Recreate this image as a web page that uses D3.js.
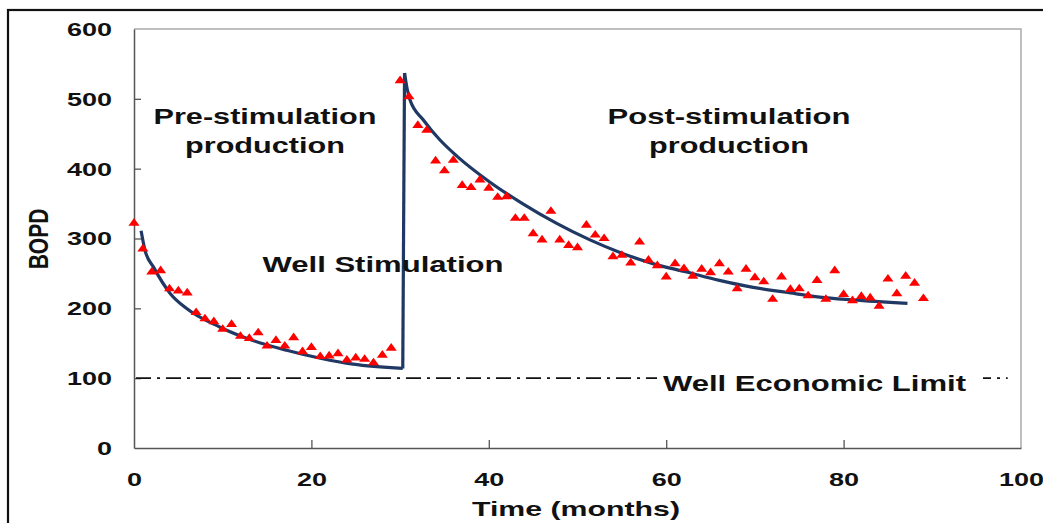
<!DOCTYPE html>
<html>
<head>
<meta charset="utf-8">
<script src="https://cdn.jsdelivr.net/npm/d3@7"></script>
<style>
  html, body { margin: 0; padding: 0; background: #fff; }
  svg { display: block; font-family: "Liberation Sans", Arial, sans-serif; font-weight: bold; }
</style>
</head>
<body>
<svg id="chart" width="1043" height="523"></svg>
<script>
// Monthly oil rate, before the stimulation job
const preMonths = [0,1,2,3,4,5,6,7,8,9,10,11,12,13,14,15,16,17,18,19,20,21,22,23,24,25,26,27,28,29];
const preRate   = [322,285,252,254,228,225,222,194,185,181,170,177,160,157,165,146,154,146,158,138,144,131,132,135,126,129,127,122,133,143];

// Monthly oil rate, after the stimulation job
const postMonths = [30,31,32,33,34,35,36,37,38,39,40,41,42,43,44,45,46,47,48,49,50,51,52,53,54,55,56,57,58,59,
                    60,61,62,63,64,65,66,67,68,69,70,71,72,73,74,75,76,77,78,79,80,81,82,83,84,85,86,87,88,89];
const postRate   = [526,503,462,455,411,397,412,376,373,384,372,359,360,329,329,307,298,339,298,290,287,319,305,300,274,276,265,295,269,261,
                    245,264,257,246,256,251,264,252,228,256,244,238,213,245,227,228,218,240,213,254,220,211,217,215,203,242,221,246,236,214];

// Decline-curve fits
const preFitMonth  = [0.8,1.24,2.2,4.1,5.9,9.7,13.4,17.2,21,24.7,30.3];
const preFitRate   = [311,283,259,221,200,173,154,140,128.6,120,114];
const postFitMonth = [30.5,30.8,31.1,32.6,34.5,36.4,40.1,43.8,47.6,51.4,55,58.5,62.3,66,69.8,73.5,77.3,81,87.2];
const postFitRate  = [537,514,499,470,441,418,381,350,322,298,279,264,252,240,230,223,216,212,207];

const economicLimit = 100;
const xTicks = [0,20,40,60,80,100];
const yTicks = [0,100,200,300,400,500,600];

const svg = d3.select("#chart");

// outer frame
svg.append("rect")
  .attr("x", 8).attr("y", 10).attr("width", 1060).attr("height", 540)
  .attr("fill", "none").attr("stroke", "#111").attr("stroke-width", 2.2);

const x = d3.scaleLinear().domain([0, 100]).range([134, 1021]);
const y = d3.scaleLinear().domain([0, 600]).range([448, 29]);

// plot box: top and right edges
svg.append("path")
  .attr("d", `M${x(0)},${y(600)}H${x(100)}V${y(0)}`)
  .attr("fill", "none").attr("stroke", "#aaa").attr("stroke-width", 1.5);

// axes with inward ticks
const yAxis = svg.append("g")
  .attr("transform", `translate(${x(0)},0)`)
  .call(d3.axisLeft(y).tickValues(yTicks).tickSizeInner(-7).tickSizeOuter(0).tickPadding(22));
const xAxis = svg.append("g")
  .attr("transform", `translate(0,${y(0)})`)
  .call(d3.axisBottom(x).tickValues(xTicks).tickSizeInner(-8).tickSizeOuter(0).tickPadding(25));

[yAxis, xAxis].forEach(g => {
  g.select(".domain").attr("stroke", "#555").attr("stroke-width", 1.5);
  g.selectAll(".tick line").attr("stroke", "#555").attr("stroke-width", 1.3);
  g.selectAll(".tick text")
    .attr("fill", "#111").attr("font-size", 18).attr("font-weight", "bold")
    .attr("font-family", "Liberation Sans, Arial, sans-serif");
});
yAxis.selectAll(".tick text").attr("dy", "0.36em");
xAxis.selectAll(".tick text").attr("dy", "0.71em");
xAxis.selectAll(".tick").filter(d => d === 0 || d === 100).select("line").remove();
yAxis.selectAll(".tick").filter(d => d === 0 || d === 600).select("line").remove();

// economic limit line
svg.append("line")
  .attr("x1", x(0) + 2).attr("x2", x(98.5))
  .attr("y1", y(economicLimit)).attr("y2", y(economicLimit))
  .attr("stroke", "#111").attr("stroke-width", 1.6)
  .attr("stroke-dasharray", "15,6,3,6");

const stretch = (sel, len) => sel.attr("textLength", len).attr("lengthAdjust", "spacingAndGlyphs");

// label on the economic limit line, masking the dashes behind it
const limitLabel = svg.append("g");
limitLabel.append("rect")
  .attr("x", 657).attr("y", y(economicLimit) - 8).attr("width", 326).attr("height", 16)
  .attr("fill", "#fff");
stretch(limitLabel.append("text")
  .attr("x", 663).attr("y", 391).attr("font-size", 22).attr("fill", "#111")
  .text("Well Economic Limit"), 303);

// fitted decline curves and the stimulation jump
const line = d3.line().x(d => x(d[0])).y(d => y(d[1])).curve(d3.curveMonotoneX);
const navy = "#1f3864";
svg.append("path")
  .attr("d", line(d3.zip(preFitMonth, preFitRate)))
  .attr("fill", "none").attr("stroke", navy).attr("stroke-width", 3.2);
svg.append("path")
  .attr("d", line(d3.zip(postFitMonth, postFitRate)))
  .attr("fill", "none").attr("stroke", navy).attr("stroke-width", 3.2);
svg.append("line")
  .attr("x1", x(preFitMonth[preFitMonth.length - 1])).attr("y1", y(preFitRate[preFitRate.length - 1]))
  .attr("x2", x(postFitMonth[0])).attr("y2", y(postFitRate[0]))
  .attr("stroke", navy).attr("stroke-width", 3.2);

// measured monthly rates
const tri = d3.symbol().type(d3.symbolTriangle).size(34);
const points = d3.zip(preMonths, preRate).concat(d3.zip(postMonths, postRate));
svg.append("g").selectAll("path")
  .data(points)
  .join("path")
  .attr("d", tri)
  .attr("transform", d => `translate(${x(d[0])},${y(d[1])}) scale(1.25,1)`)
  .attr("fill", "#ff0000");

// annotations
const note = (tx, ty, txt, len) =>
  stretch(svg.append("text").attr("x", tx).attr("y", ty)
    .attr("text-anchor", "middle").attr("font-size", 22).attr("fill", "#111").text(txt), len);
note(265, 124, "Pre-stimulation", 223);
note(265, 153, "production", 160);
note(729, 124, "Post-stimulation", 243);
note(729, 153, "production", 160);
note(383, 272, "Well Stimulation", 241);

// axis titles
stretch(svg.append("text")
  .attr("x", 576).attr("y", 516).attr("text-anchor", "middle")
  .attr("font-size", 21).attr("fill", "#111").text("Time (months)"), 208);
svg.append("text")
  .attr("transform", "translate(48,239) rotate(-90) scale(1,1.35)")
  .attr("text-anchor", "middle").attr("font-size", 21).attr("fill", "#111")
  .text("BOPD");

// widen tick labels to the chart's proportions
svg.selectAll(".tick text").each(function () {
  const w = this.getComputedTextLength();
  d3.select(this).attr("textLength", w * 1.5).attr("lengthAdjust", "spacingAndGlyphs");
});
</script>
</body>
</html>
